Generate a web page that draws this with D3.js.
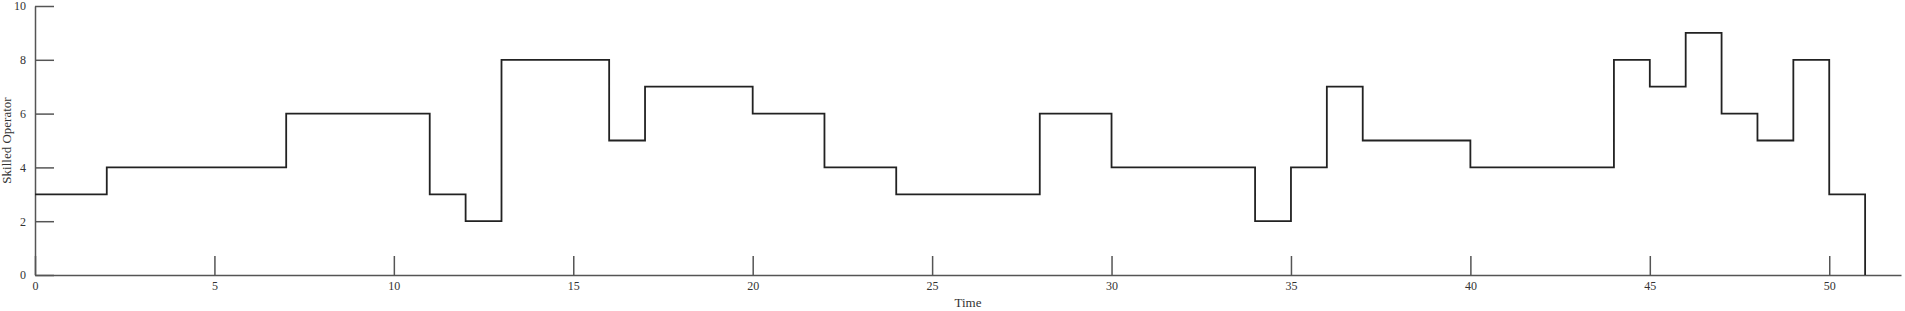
<!DOCTYPE html>
<html>
<head>
<meta charset="utf-8">
<script src="https://cdn.jsdelivr.net/npm/d3@7"></script>
<style>
    body { margin: 0; background: #fff; }
    svg { display: block; }
    .axis text { font-family: "Liberation Serif", serif; font-size: 12px; fill: #333; }
    .axis path, .axis line { stroke: #555; stroke-width: 1.5; }
    .label { font-family: "Liberation Serif", serif; font-size: 13px; fill: #333; }
</style>
</head>
<body>
<div id="chart"></div>
<script>
// step starts (time) and the value held from each one
const times = [0, 2, 7, 11, 12, 13, 16, 17, 20, 22, 24, 28, 30, 34, 35, 36, 37, 40, 44, 45, 46, 47, 48, 49, 50, 51];
const operators = [3, 4, 6, 3, 2, 8, 5, 7, 6, 4, 3, 6, 4, 2, 4, 7, 5, 4, 8, 7, 9, 6, 5, 8, 3, 0];
const xTicks = [0, 5, 10, 15, 20, 25, 30, 35, 40, 45, 50];
const yTicks = [0, 2, 4, 6, 8, 10];

const width = 1905;
const height = 311;
const margin = { top: 6, right: 4, bottom: 36, left: 35 };

const data = times.map((t, i) => ({ t: t, v: operators[i] }));

const svg = d3.select('#chart').append('svg')
    .attr('width', width)
    .attr('height', height);

const xScale = d3.scaleLinear()
    .domain([0, 52])
    .range([margin.left, width - margin.right]);

const yScale = d3.scaleLinear()
    .domain([0, 10])
    .range([height - margin.bottom, margin.top]);

// axes, ticks point inward
svg.append('g')
    .attr('class', 'x axis')
    .attr('transform', `translate(0,${height - margin.bottom})`)
    .call(d3.axisBottom(xScale).tickValues(xTicks).tickSize(-19).tickSizeOuter(0).tickPadding(6));

svg.append('g')
    .attr('class', 'y axis')
    .attr('transform', `translate(${margin.left},0)`)
    .call(d3.axisLeft(yScale).tickValues(yTicks).tickSize(-19).tickSizeOuter(0).tickPadding(9));

// the step line
const line = d3.line()
    .x(d => xScale(d.t))
    .y(d => yScale(d.v))
    .curve(d3.curveStepAfter);

svg.append('path')
    .datum(data)
    .attr('d', line)
    .attr('fill', 'none')
    .attr('stroke', '#222')
    .attr('stroke-width', 1.8);

// axis titles
svg.append('text')
    .attr('class', 'label')
    .attr('x', 968)
    .attr('y', 307)
    .attr('text-anchor', 'middle')
    .text('Time');

svg.append('text')
    .attr('class', 'label')
    .attr('transform', `translate(11,${(margin.top + height - margin.bottom) / 2}) rotate(-90)`)
    .attr('text-anchor', 'middle')
    .text('Skilled Operator');
</script>
</body>
</html>
